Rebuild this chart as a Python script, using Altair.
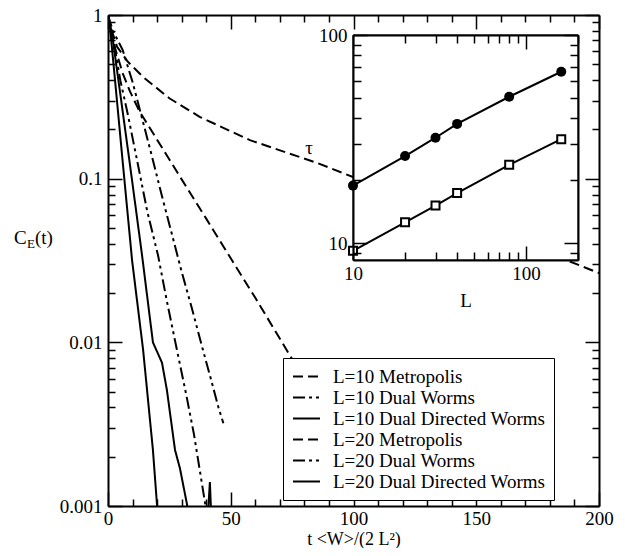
import json
import altair as alt
import pandas as pd

# ---------------- data ----------------
SERIES = ["L=10 Metropolis", "L=10 Dual Worms", "L=10 Dual Directed Worms",
          "L=20 Metropolis", "L=20 Dual Worms", "L=20 Dual Directed Worms"]

t_m10 = [0, 1, 3, 6, 9, 13, 20, 30, 40, 50, 60, 75, 90, 100]
c_m10 = [1, 0.82, 0.62, 0.44, 0.34, 0.255, 0.173, 0.099, 0.057, 0.0326, 0.0187, 0.0079, 0.0036, 0.0022]

t_dw10 = [0, 1, 3, 5, 8, 12, 16, 20.4, 24, 28, 32, 35, 38, 39.5, 41]
c_dw10 = [1, 0.83, 0.6, 0.4, 0.25, 0.126, 0.063, 0.0339, 0.0178, 0.0091, 0.00468, 0.00275, 0.00145, 0.00105, 0.0008]

t_dd10 = [0, 0.8, 3, 6, 9.8, 14.3, 18.3, 20, 21]
c_dd10 = [1, 0.845, 0.38, 0.126, 0.0318, 0.009, 0.0022, 0.001, 0.0008]

t_m20 = [0, 1, 3.7, 8, 14.3, 25, 37.5, 57.8, 85, 120, 160, 200]
c_m20 = [1, 0.85, 0.64, 0.52, 0.418, 0.31, 0.238, 0.172, 0.125, 0.078, 0.0458, 0.0265]

t_dw20 = [0, 2, 4, 6, 10, 14, 18, 22, 26, 30, 34, 38, 42, 45, 47]
c_dw20 = [1, 0.8, 0.7, 0.61, 0.39, 0.23, 0.135, 0.078, 0.046, 0.027, 0.0165, 0.0098, 0.0059, 0.0040, 0.0032]

t_dd20 = [0, 1.6, 5, 9, 13.85, 18.3, 22, 24, 27.3, 29.3, 32.2, 34, 38, 40, 41.5, 42.5, 44]
c_dd20 = [1, 0.776, 0.33, 0.12, 0.0342, 0.01, 0.0075, 0.0051, 0.0022, 0.0017, 0.00102, 0.0007, 0.0005, 0.0006, 0.0014, 0.0006, 0.0005]

# inset
L_vals = [10, 20, 30, 40, 80, 160]
tau_circle = [18.9, 26.2, 32.1, 37.4, 50.5, 66.6]
tau_square = [9.19, 12.6, 15.15, 17.4, 23.8, 31.6]

# axes
X_DOMAIN = [0, 200]
Y_DOMAIN = [0.001, 1]
X_TICKS = list(range(0, 201, 10))
X_MAJOR = [0, 50, 100, 150, 200]
Y_MAJOR = [0.001, 0.01, 0.1, 1]
Y_TICKS = [m * d for d in [0.001, 0.01, 0.1] for m in range(1, 10)] + [1]

IX_DOMAIN = [10, 200]
IY_DOMAIN = [8.3, 100]
IX_TICKS = [10, 20, 30, 40, 50, 60, 70, 80, 90, 100, 200]
IX_MAJOR = [10, 100]
IY_TICKS = [9, 10, 20, 30, 40, 50, 60, 70, 80, 90, 100]
IY_MAJOR = [10, 100]

# ---------------- build ----------------
curves = [(t_m10, c_m10), (t_dw10, c_dw10), (t_dd10, c_dd10),
          (t_m20, c_m20), (t_dw20, c_dw20), (t_dd20, c_dd20)]
rows = []
for name, (ts, cs) in zip(SERIES, curves):
    for i, (t, c) in enumerate(zip(ts, cs)):
        rows.append({"series": name, "t": t, "C": c, "i": i})
df = pd.DataFrame(rows)

inset_df = pd.DataFrame({
    "L": L_vals + L_vals,
    "tau": tau_circle + tau_square,
    "kind": ["circle"] * len(L_vals) + ["square"] * len(L_vals),
})
box_df = pd.DataFrame({"L0": [IX_DOMAIN[0]], "L1": [IX_DOMAIN[1]],
                       "tau0": [IY_DOMAIN[0]], "tau1": [IY_DOMAIN[1]]})
mirror_df = pd.DataFrame({"t": X_DOMAIN, "C": Y_DOMAIN})

W = H = 491
FONT = "Liberation Serif"
FS = 19

DASHES = [[10, 5], [12, 4, 3, 4, 3, 4], [1, 0], [10, 5], [12, 4, 3, 4, 3, 4], [1, 0]]


def is_major(vals):
    return "indexof(%s, datum.value) >= 0" % json.dumps(vals)


def tick_cond(vals, major, minor):
    return {"condition": {"test": is_major(vals), "value": major}, "value": minor}


def axis(orient, values, major, big, small, labels=True, title=None, offset=0,
         pad=0, fmt="d", **kw):
    args = dict(orient=orient, values=values, tickSize=tick_cond(major, big, small),
                labels=labels, title=title, offset=offset, grid=False,
                labelFlush=False, labelOverlap=False, labelFont=FONT, labelFontSize=FS,
                labelColor="black", tickColor="black", domainColor="black",
                domainWidth=2, tickWidth=1.5, titleFont=FONT, titleFontSize=FS,
                titleFontWeight="normal", titleColor="black")
    if labels:
        args["labelExpr"] = "%s ? datum.label : ''" % is_major(major)
        args["labelPadding"] = pad
        args["format"] = fmt
    args.update(kw)
    return alt.Axis(**args)


xs = alt.Scale(domain=X_DOMAIN, nice=False, zero=False)
ys = alt.Scale(type="log", domain=Y_DOMAIN, nice=False)
ixs = alt.Scale(type="log", domain=IX_DOMAIN, range=[245, 470], nice=False)
iys = alt.Scale(type="log", domain=IY_DOMAIN, range=[245, 20], nice=False)

lines = alt.Chart(df).mark_line(clip=True, strokeWidth=2, color="black").encode(
    x=alt.X("t:Q", scale=xs,
            axis=axis("bottom", X_TICKS, X_MAJOR, -14, -7, pad=17,
                      title="t <W>/(2 L²)", titleBaseline="middle", titleY=33,
                      titleFontSize=18)),
    y=alt.Y("C:Q", scale=ys,
            axis=axis("left", Y_TICKS, Y_MAJOR, -14, -7, pad=20, fmt="~g")),
    strokeDash=alt.StrokeDash(
        "series:N", scale=alt.Scale(domain=SERIES, range=DASHES),
        legend=alt.Legend(title=None, orient="none", legendX=175, legendY=343,
                          fillColor="white", strokeColor="black", padding=8,
                          rowPadding=0, labelFont=FONT, labelFontSize=FS,
                          labelColor="black", labelLimit=400,
                          symbolType="M-1.42,0H1.42", symbolSize=361,
                          symbolStrokeWidth=2, symbolStrokeColor="black",
                          symbolFillColor="transparent",
                          symbolOffset=5, labelOffset=16)),
    order="i:Q",
)

mirror = alt.Chart(mirror_df).mark_point(opacity=0).encode(
    x=alt.X("t:Q", scale=xs, axis=axis("top", X_TICKS, X_MAJOR, -14, -7, labels=False)),
    y=alt.Y("C:Q", scale=ys, axis=axis("right", Y_TICKS, Y_MAJOR, -14, -7, labels=False)),
)

inset_bg = alt.Chart(box_df).mark_rect(fill="white", stroke="black", strokeWidth=1).encode(
    x=alt.X("L0:Q", scale=ixs,
            axis=axis("top", IX_TICKS, IX_MAJOR, -14, -8, labels=False, offset=-20, zindex=2)),
    x2="L1:Q",
    y=alt.Y("tau0:Q", scale=iys,
            axis=axis("right", IY_TICKS, IY_MAJOR, -14, -8, labels=False, offset=-21, zindex=2)),
    y2="tau1:Q",
)

inset_lines = alt.Chart(inset_df).mark_line(color="black", strokeWidth=2).encode(
    x=alt.X("L:Q", scale=ixs,
            axis=axis("bottom", IX_TICKS, IX_MAJOR, -14, -8, pad=18, offset=-246,
                      title="L", titlePadding=2, zindex=2)),
    y=alt.Y("tau:Q", scale=iys,
            axis=axis("left", IY_TICKS, IY_MAJOR, -14, -8, pad=20, offset=-245,
                      title="τ", titleAngle=0, titlePadding=10, titleBaseline="middle",
                      zindex=2)),
    detail="kind:N",
)

circles = alt.Chart(inset_df).transform_filter("datum.kind == 'circle'").mark_point(
    shape="circle", filled=True, size=100, color="black", opacity=1).encode(
    x=alt.X("L:Q", scale=ixs, axis=None), y=alt.Y("tau:Q", scale=iys, axis=None))

squares = alt.Chart(inset_df).transform_filter("datum.kind == 'square'").mark_point(
    shape="square", filled=True, fill="white", stroke="black", strokeWidth=2,
    size=64, opacity=1).encode(
    x=alt.X("L:Q", scale=ixs, axis=None), y=alt.Y("tau:Q", scale=iys, axis=None))

one = pd.DataFrame({"k": [0]})
yt_C = alt.Chart(one).mark_text(font=FONT, fontSize=FS, align="left", baseline="middle",
                                color="black").encode(
    text=alt.value("C"), x=alt.value(-94), y=alt.value(223))
yt_E = alt.Chart(one).mark_text(font=FONT, fontSize=13, align="left", baseline="middle",
                                color="black").encode(
    text=alt.value("E"), x=alt.value(-81), y=alt.value(229))
yt_t = alt.Chart(one).mark_text(font=FONT, fontSize=FS, align="left", baseline="middle",
                                color="black").encode(
    text=alt.value("(t)"), x=alt.value(-73), y=alt.value(223))

chart = alt.layer(
    lines, mirror, inset_bg, inset_lines, circles, squares, yt_C, yt_E, yt_t
).resolve_scale(
    x="independent", y="independent"
).resolve_axis(
    x="independent", y="independent"
).properties(
    width=W, height=H,
    padding={"left": 100, "top": 7, "right": 18, "bottom": 42},
    autosize=alt.AutoSizeParams(type="none"),
).configure_view(stroke=None)

chart.save("out.html", embed_options={"renderer": "svg", "actions": False})
